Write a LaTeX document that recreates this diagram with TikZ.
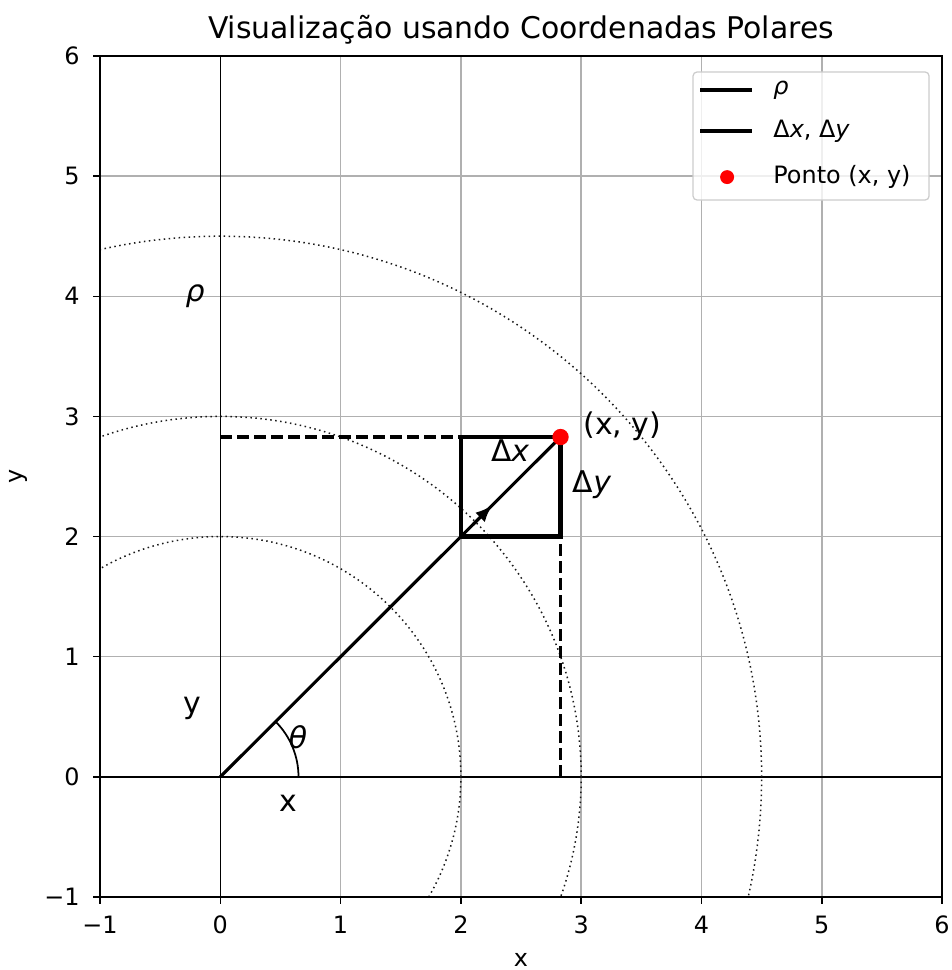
\documentclass[tikz,border=0pt]{standalone}
\usepackage{fontspec}
\setmainfont{DejaVu Sans}
\usetikzlibrary{arrows.meta,positioning}
\definecolor{gridgray}{HTML}{B0B0B0}
\definecolor{legframe}{HTML}{CCCCCC}
\definecolor{ptred}{HTML}{FF0000}
\newcommand{\vit}[1]{{\itshape #1}}

\begin{document}
\begin{tikzpicture}[x=2.4058cm, y=2.4028cm,
  every node/.style={inner sep=0pt, font=\fontsize{13.6}{16}\selectfont},
  biglab/.style={font=\fontsize{17}{20}\selectfont},
  gridline/.style={gridgray, line width=0.03cm},
  circdot/.style={black!90, line width=0.03cm, dash pattern=on 0.03cm off 0.07cm},
  rholine/.style={black, line width=0.062cm},
  boxline/.style={black, line width=0.09cm},
  dashline/.style={black, line width=0.062cm, dash pattern=on 0.24cm off 0.1cm}]
  \useasboundingbox (-1.8314,-1.6076) rectangle (6.0747,6.4662);

  % grid and axes
  \foreach \k in {-1,...,6} {
    \draw[gridline] (\k,-1) -- (\k,6);
    \draw[gridline] (-1,\k) -- (6,\k);
  }
  \draw[black, line width=0.028cm] (-1,0) -- (6,0);
  \draw[black, line width=0.028cm] (0,-1) -- (0,6);

  % dotted circles
  \begin{scope}
    \clip (-1,-1) rectangle (6,6);
    \draw[circdot] (0,0) circle (2);
    \draw[circdot] (0,0) circle (3);
    \draw[circdot] (0,0) circle (4.5);
  \end{scope}

  \coordinate (O) at (0,0);
  \coordinate (P) at (2.8284,2.8284);
  \coordinate (A) at (2,2);
  \coordinate (Py) at (0,2.8284);
  \coordinate (Px) at (2.8284,0);
  \coordinate (Ay) at (2,2.8284);
  \coordinate (Ax) at (2.8284,2);

  % projections
  \draw[dashline] (Py) -- (Ay);
  \draw[dashline] (Px) -- (Ax);

  % box
  \draw[boxline] (A) rectangle (P);

  % radius and angle
  \draw[rholine] (O) -- (P);
  \draw[rholine, -{Latex[length=0.34cm, width=0.27cm]}] (2.1,2.1) -- (2.26,2.26);
  \draw[black, line width=0.035cm] (0.65,0) arc[start angle=0, end angle=45, radius=0.65];

  \fill[ptred] (P) circle (0.068);

  % labels
  \node[biglab] (rho) at (-0.21,4.0) {\vit{ρ}};
  \node[biglab] (ylabel) at (-0.234,0.573) {y};
  \node[biglab] (xlabel) at (0.563,-0.218) {x};
  \node[biglab] (theta) at (0.646,0.332) {\vit{θ}};
  \node[biglab] (dx) at (2.409,2.712) {Δ\vit{x}};
  \node[biglab] (dy) at (3.09,2.429) {Δ\vit{y}};
  \node[biglab, anchor=west] (pt) at (3.016,2.92) {(x, y)};

  % frame and ticks
  \draw[black, line width=0.038cm] (-1,-1) rectangle (6,6);
  \foreach \k in {-1,...,6} {
    \draw[black, line width=0.03cm] (\k,-1) -- (\k,-1.058);
    \draw[black, line width=0.03cm] (-1,\k) -- (-1.058,\k);
  }
  \foreach \k/\t in {-1/−1,0/0,1/1,2/2,3/3,4/4,5/5,6/6} {
    \node (xt\k) at (\k,-1.233) {\t};
    \node[anchor=east] (yt\k) at (-1.166,\k) {\t};
  }
  \node (xaxis) at (2.5,-1.525) {x};
  \node[rotate=90] (yaxis) at (-1.682,2.5) {y};
  \node[biglab] (title) at (2.5,6.216) {Visualização usando Coordenadas Polares};

  % legend
  \draw[legframe, fill=white, fill opacity=0.8, line width=0.025cm, rounded corners=0.08cm]
    (3.93,4.801) rectangle (5.892,5.867);
  \draw[rholine] (3.988,5.717) -- (4.42,5.717);
  \draw[boxline] (3.988,5.375) -- (4.42,5.375);
  \fill[ptred] (4.213,4.992) circle (0.058);
  \node[anchor=west] (legrho) at (4.595,5.717) {\vit{ρ}};
  \node[anchor=west] (legd) at (4.595,5.375) {Δ\vit{x}, Δ\vit{y}};
  \node[anchor=west] (legpt) at (4.595,4.992) {Ponto (x, y)};
\end{tikzpicture}
\end{document}
